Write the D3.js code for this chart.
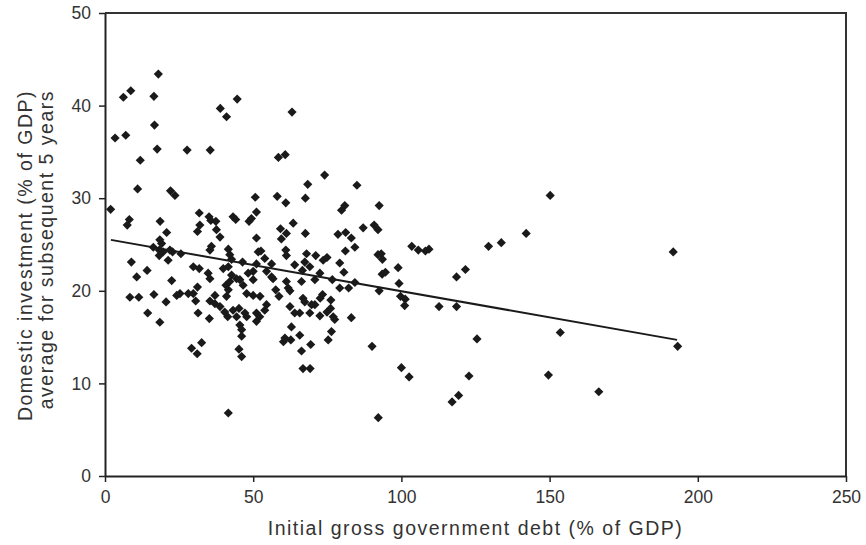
<!DOCTYPE html>
<html>
<head>
<meta charset="utf-8">
<script src="https://cdn.jsdelivr.net/npm/d3@7"></script>
<style>
    body { margin: 0; background: #fff; }
    svg { display: block; }
    text { font-family: "Liberation Sans", Arial, Helvetica, sans-serif; fill: #333; }
</style>
</head>
<body>
<svg id="chart" width="866" height="545"></svg>
<script>
// initial gross government debt (% of GDP), one entry per country/period
const debt = [
    18.0, 6.2, 8.7, 16.5, 3.4, 7.0, 16.7, 17.6, 11.9, 27.7, 35.5, 38.9, 41.0, 44.6, 63.1, 58.5, 60.8, 74.1, 68.4, 11.0,
    22.1, 23.6, 50.7, 58.1, 67.6, 61.0,
    85.0, 92.5, 80.9, 79.8, 87.1, 90.8, 92.1, 81.2, 78.6, 83.1, 84.3, 81.1, 79.2, 80.6, 92.1, 93.6, 93.2, 93.5, 94.6, 98.9,
    99.2, 103.5, 105.7, 108.1, 109.3, 129.4, 133.7, 142.1, 150.2, 118.6, 121.6, 84.3, 79.2, 82.2, 92.5, 99.7, 101.3,
    101.1, 112.7, 118.6, 83.1, 90.1, 125.5, 153.6, 100.0, 102.6, 122.8, 149.6, 119.3, 117.1, 92.2, 166.6, 191.7, 193.2,
    29.2, 31.1, 32.6, 45.2, 46.1, 41.6, 60.2, 62.7, 66.3, 69.4, 66.8, 69.2, 75.3,
    1.9, 8.2, 7.5, 18.6, 31.8, 35.1, 35.7, 37.4, 43.2, 44.1, 48.6, 49.4, 51.1, 32.0, 31.2, 37.6, 38.8, 20.8, 18.5, 19.1,
    16.3, 18.3, 19.6, 21.9, 22.8, 18.3, 21.3, 25.6, 35.9, 35.4, 41.6, 42.1, 42.7, 46.4, 51.1, 51.7, 51.1, 8.9, 14.2, 10.7,
    22.5, 29.8, 31.8, 34.8, 35.4, 39.9, 41.6, 42.7, 40.8, 42.1, 44.4, 45.5, 46.6, 48.3, 50.0, 8.4, 11.4, 16.5, 20.6, 24.2,
    25.3, 28.1, 29.8, 31.2, 30.6, 37.1, 35.4, 37.1, 38.8, 40.4, 41.4, 41.0, 41.6, 43.2, 44.4, 45.2, 47.2, 47.8, 47.8, 50.0,
    31.4, 35.2, 14.4, 18.5, 45.5, 46.1, 46.1, 51.1, 51.1,
    63.5, 59.2, 61.2, 59.5, 67.6, 52.6, 53.9, 56.2, 61.0, 61.2, 64.0, 68.0, 71.1, 74.9, 73.6, 67.4, 66.6, 69.1, 72.5, 70.8,
    50.0, 54.5, 56.2, 56.7, 61.2, 61.8, 62.4, 66.3, 57.6, 58.7, 52.3, 73.4, 72.6, 76.2, 66.8, 67.4, 69.7, 76.7, 62.4, 64.0,
    65.7, 69.1, 70.8, 72.5, 74.9, 76.1, 77.0, 77.5, 54.5, 53.9, 52.2, 62.9, 65.7, 60.7, 76.4
];

// domestic investment (% of GDP), average for the subsequent 5 years
const investment = [
    43.4, 40.9, 41.6, 41.0, 36.5, 36.8, 37.9, 35.3, 34.1, 35.2, 35.2, 39.7, 38.8, 40.7, 39.3, 34.4, 34.7, 32.5, 31.5, 31.0,
    30.8, 30.3, 30.1, 30.2, 30.0, 29.5,
    31.4, 29.2, 29.2, 28.7, 26.8, 27.1, 26.6, 26.3, 26.1, 25.7, 24.7, 24.3, 23.0, 22.0, 23.9, 23.4, 24.0, 21.8, 22.0, 22.5,
    20.8, 24.8, 24.4, 24.3, 24.5, 24.8, 25.2, 26.2, 30.3, 21.5, 22.3, 20.9, 20.3, 20.3, 20.0, 19.4, 19.1,
    18.4, 18.3, 18.3, 17.1, 14.0, 14.8, 15.5, 11.7, 10.7, 10.8, 10.9, 8.7, 8.0, 6.3, 9.1, 24.2, 14.0,
    13.8, 13.2, 14.4, 13.7, 12.9, 6.8, 14.5, 14.7, 13.5, 14.2, 11.6, 11.6, 14.7,
    28.8, 27.7, 27.1, 27.5, 28.4, 28.0, 27.6, 27.5, 28.0, 27.7, 27.5, 27.8, 28.5, 27.1, 26.4, 26.6, 25.8, 26.3, 25.5, 25.1,
    24.7, 24.4, 24.2, 24.4, 24.2, 23.8, 23.3, 24.0, 24.8, 24.4, 24.5, 23.9, 23.4, 23.1, 22.9, 24.2, 25.7, 23.1, 22.2, 21.5,
    21.1, 22.6, 22.4, 21.9, 21.3, 22.4, 22.6, 21.7, 20.6, 21.0, 21.3, 21.2, 20.6, 21.9, 21.2, 19.3, 19.3, 19.6, 18.8, 19.5,
    19.7, 19.7, 19.7, 20.4, 18.9, 19.5, 18.9, 18.6, 18.3, 17.7, 17.2, 19.4, 20.1, 17.9, 17.2, 18.1, 17.6, 17.2, 19.7, 19.5,
    17.6, 17.0, 17.6, 16.6, 16.3, 15.8, 15.1, 16.7, 17.6,
    27.3, 26.7, 26.2, 25.6, 26.2, 24.3, 23.5, 22.9, 24.4, 23.8, 22.8, 24.0, 23.8, 23.6, 23.3, 23.1, 22.2, 22.6, 21.9, 21.2,
    22.1, 22.1, 21.5, 21.3, 21.0, 20.3, 20.0, 21.0, 20.1, 19.4, 19.4, 19.6, 19.2, 19.0, 19.2, 18.8, 18.5, 21.2, 18.3, 17.6,
    17.6, 17.6, 18.5, 17.3, 17.7, 18.1, 17.2, 16.9, 18.5, 17.9, 17.2, 16.1, 15.2, 14.9, 15.6
];

const trendDebt = [2, 193];
const trendInvestment = [25.5, 14.7];

const xTicks = [0, 50, 100, 150, 200, 250];
const yTicks = [0, 10, 20, 30, 40, 50];

const xTitle = "Initial gross government debt (% of GDP)";
const yTitle = ["Domestic investment (% of GDP)", "average for subsequent 5 years"];

function drawChart() {
    let svg = d3.select("#chart");
    let ink = "#222";

    //plot area box
    let left = 105, right = 846, top = 13, bottom = 476;

    let x = d3.scaleLinear().domain([0, 250]).range([left, right]);
    let y = d3.scaleLinear().domain([0, 50]).range([bottom, top]);

    //top and right border of the frame
    svg.append("path")
        .attr("d", "M" + left + "," + top + "H" + right + "V" + bottom)
        .attr("fill", "none")
        .attr("stroke", "#333")
        .attr("stroke-width", 2);

    //axes
    let xAxis = svg.append("g")
        .attr("transform", "translate(0," + bottom + ")")
        .call(d3.axisBottom(x).tickValues(xTicks).tickSize(6).tickPadding(9).tickSizeOuter(0));

    let yAxis = svg.append("g")
        .attr("transform", "translate(" + left + ",0)")
        .call(d3.axisLeft(y).tickValues(yTicks).tickSize(6).tickPadding(8).tickSizeOuter(0));

    [xAxis, yAxis].forEach((axis) => {
        axis.select(".domain").attr("stroke", ink).attr("stroke-width", 2);
        axis.selectAll(".tick line").attr("stroke", ink).attr("stroke-width", 1.5);
        axis.selectAll(".tick text")
            .attr("fill", "#333")
            .style("font-size", "17.5px")
            .style("font-family", "'Liberation Sans', Arial, sans-serif");
    });

    //points as small filled diamonds
    let diamond = d3.symbol().type(d3.symbolSquare).size(42);
    svg.append("g")
        .selectAll("path")
        .data(d3.range(debt.length))
        .enter().append("path")
        .attr("d", diamond)
        .attr("fill", "#1a1a1a")
        .attr("transform", (i) => "translate(" + x(debt[i]) + "," + y(investment[i]) + ") rotate(45)");

    //trend line
    let line = d3.line()
        .x((i) => x(trendDebt[i]))
        .y((i) => y(trendInvestment[i]));

    svg.append("path")
        .attr("d", line([0, 1]))
        .attr("fill", "none")
        .attr("stroke", "#1a1a1a")
        .attr("stroke-width", 2);

    //axis titles, a bit loosely spaced like the original
    svg.append("text")
        .attr("x", (left + right) / 2)
        .attr("y", 535)
        .attr("text-anchor", "middle")
        .style("font-size", "19.5px")
        .style("letter-spacing", "1.5px")
        .text(xTitle);

    //two rotated lines, both ending near the top of the plot
    yTitle.forEach((part, index) => {
        svg.append("text")
            .attr("transform", "translate(" + (32 + index * 21) + ",90) rotate(-90)")
            .attr("text-anchor", "end")
            .style("font-size", "19.5px")
            .style("letter-spacing", "1.5px")
            .text(part);
    });
}

drawChart();
</script>
</body>
</html>
